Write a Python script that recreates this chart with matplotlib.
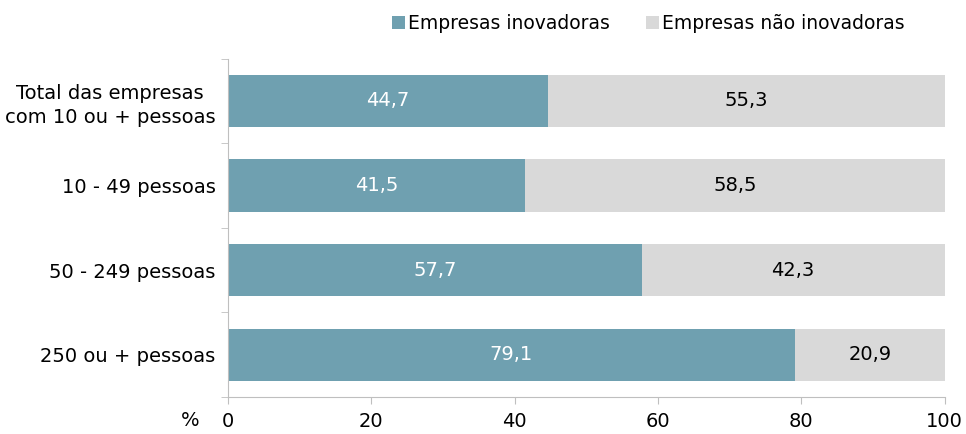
import matplotlib.pyplot as plt
import numpy as np

categories = ["Total das empresas\ncom 10 ou + pessoas", "10 - 49 pessoas",
              "50 - 249 pessoas", "250 ou + pessoas"]
inovadoras = [44.7, 41.5, 57.7, 79.1]
nao_inovadoras = [55.3, 58.5, 42.3, 20.9]
xticks = [0, 20, 40, 60, 80, 100]

teal = "#6fa0b0"
grey = "#d9d9d9"
axis_col = "#bfbfbf"

plt.rcParams['font.family'] = ['DejaVu Sans']
fig = plt.figure(figsize=(9.66, 4.34), dpi=100)
ax = fig.add_axes([0.236, 0.085, 0.742, 0.78])

y = np.arange(len(categories))
b1 = ax.barh(y, inovadoras, height=0.62, color=teal, label="Empresas inovadoras")
b2 = ax.barh(y, nao_inovadoras, left=inovadoras, height=0.62, color=grey,
             label="Empresas não inovadoras")

for i in range(len(categories)):
    ax.text(inovadoras[i] / 2, y[i], f"{inovadoras[i]:.1f}".replace(".", ","),
            ha="center", va="center", color="white", fontsize=14)
    ax.text(inovadoras[i] + nao_inovadoras[i] / 2, y[i],
            f"{nao_inovadoras[i]:.1f}".replace(".", ","),
            ha="center", va="center", color="black", fontsize=14)

ax.set_xlim(0, 100)
ax.set_ylim(3.5, -0.5)
ax.set_xticks(xticks)
ax.set_xticklabels([str(t) for t in xticks], fontsize=14)
ax.set_yticks(y)
ax.set_yticklabels(categories, fontsize=14, linespacing=1.35, multialignment="center")
ax.set_yticks(np.arange(-0.5, 4, 1), minor=True)
ax.tick_params(axis="y", which="major", length=0, pad=9)
ax.tick_params(axis="y", which="minor", length=5, color=axis_col)
ax.tick_params(axis="x", length=5, color=axis_col, pad=6)

for s in ["top", "right"]:
    ax.spines[s].set_visible(False)
for s in ["left", "bottom"]:
    ax.spines[s].set_color(axis_col)

fig.text(0.197, 0.032, "%", fontsize=14, ha="center", va="center")

fig.legend(handles=[b1, b2], loc="center", bbox_to_anchor=(0.671, 0.945), ncol=2,
           frameon=False, fontsize=13.5, handlelength=0.7, handleheight=0.7,
           handletextpad=0.15, columnspacing=1.9)

fig.savefig("out.png", dpi=100)
